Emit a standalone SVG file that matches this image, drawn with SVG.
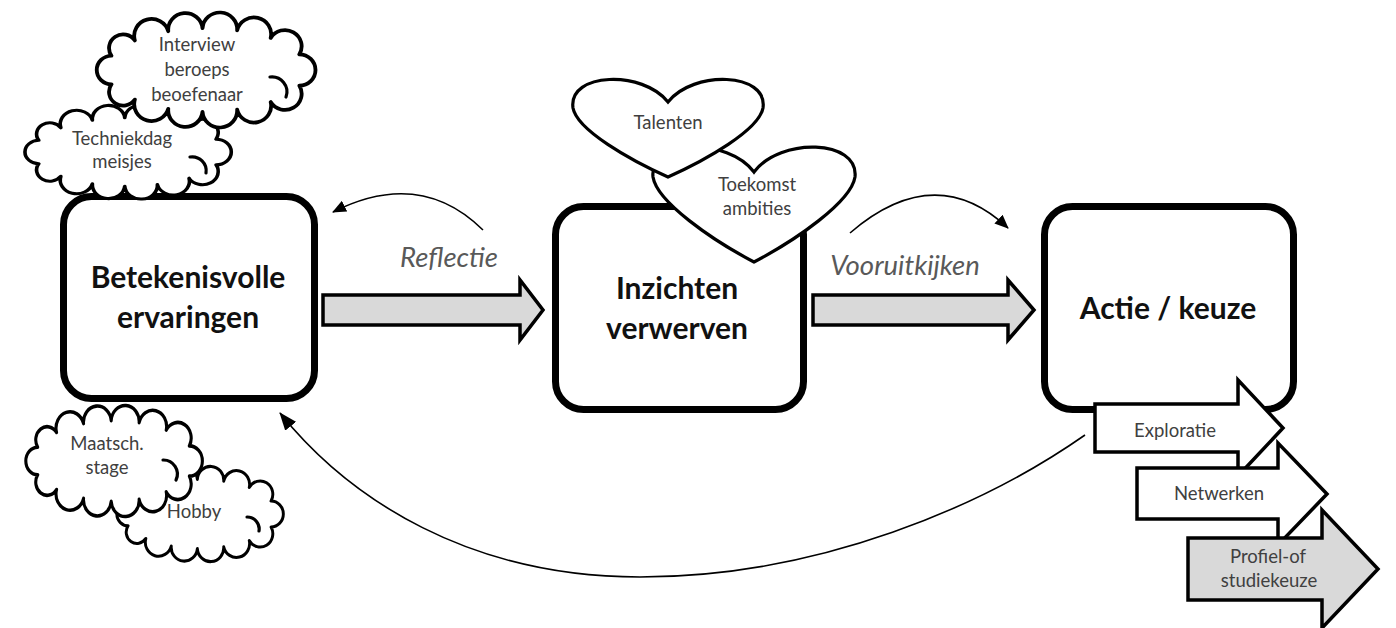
<svg xmlns="http://www.w3.org/2000/svg" width="1396" height="628" viewBox="0 0 1396 628">
<defs>
<style>
.box{fill:#fff;stroke:#000;stroke-width:7}
.cloud{fill:#fff;stroke:#000;stroke-width:3.2;vector-effect:non-scaling-stroke;stroke-linejoin:round}
.curl{fill:none;stroke:#000;stroke-width:3.2;stroke-linecap:round}
.heart{fill:#fff;stroke:#000;stroke-width:3.2;stroke-linejoin:miter}
.barrow{fill:#d9d9d9;stroke:#000;stroke-width:3.5;stroke-linejoin:miter}
.warrow{fill:#fff;stroke:#000;stroke-width:3.5;stroke-linejoin:miter}
.thin{fill:none;stroke:#000;stroke-width:1.6}
.big{font-family:Lato,"Liberation Sans",sans-serif;font-weight:bold;font-size:30px;fill:#111;text-anchor:middle}
.small{font-family:Lato,"Liberation Sans",sans-serif;font-size:18.5px;fill:#404040;text-anchor:middle}
.lbl{font-family:Lato,"Liberation Sans",sans-serif;font-style:italic;font-size:27.5px;fill:#595959;text-anchor:middle}
</style>
<path id="cloudShape" d="M77.9,13.5 A0.01,0.01 0 0 1 54,27.6 A0.01,0.01 0 0 1 26,34.2 A0.01,0.01 0 0 1 -2.9,36 A0.01,0.01 0 0 1 -31.5,33.4 A0.01,0.01 0 0 1 -59.4,25.5 A0.01,0.01 0 0 1 -78.9,12.3 A0.01,0.01 0 0 1 -78.9,-12.3 A0.01,0.01 0 0 1 -59.4,-25.5 A0.01,0.01 0 0 1 -31.5,-33.4 A0.01,0.01 0 0 1 -2.9,-36 A0.01,0.01 0 0 1 26,-34.2 A0.01,0.01 0 0 1 54,-27.6 A0.01,0.01 0 0 1 77.9,-13.5 A0.01,0.01 0 0 1 77.9,13.5 Z"/>
<marker id="ah" markerUnits="userSpaceOnUse" markerWidth="14" markerHeight="12" viewBox="0 0 14 12" refX="13" refY="6" orient="auto">
<path d="M0,0 L14,6 L0,12 Z" fill="#000"/>
</marker>
<marker id="ahBig" markerUnits="userSpaceOnUse" markerWidth="18" markerHeight="14" viewBox="0 0 18 14" refX="17" refY="7" orient="auto">
<path d="M0,0 L18,7 L0,14 Z" fill="#000"/>
</marker>
</defs>
<rect width="1396" height="628" fill="#fff"/>

<g id="connectors">
<path class="barrow" d="M323,295 H520 V280 L543,310 L520,340 V325 H323 Z"/>
<path class="barrow" d="M813,295 H1008 V280 L1034,310 L1008,340 V325 H813 Z"/>
<path class="thin" d="M483,230 Q420,168 333,212" marker-end="url(#ah)"/>
<path class="thin" d="M850,233 Q935,160 1008,228" marker-end="url(#ah)"/>
<path class="thin" d="M1085,435 C985,505 820,577 640,577 C470,577 350,500 280,413" marker-end="url(#ahBig)"/>
</g>
<g id="label-reflectie"><text class="lbl" x="449" y="267">Reflectie</text></g>
<g id="label-vooruitkijken"><text class="lbl" x="905" y="275">Vooruitkijken</text></g>

<g id="node-ervaringen">
<rect class="box" x="63.5" y="196.5" width="251" height="202" rx="28"/>
<text class="big" x="188" y="288">Betekenisvolle</text>
<text class="big" x="188" y="328">ervaringen</text>
</g>

<g id="cloud-techniekdag">
<use href="#cloudShape" class="cloud" transform="translate(128,152) scale(1.13,0.95)"/>
<path class="curl" d="M190,157 A14,14 0 0 1 206,173"/>
<text class="small" x="122" y="145">Techniekdag</text>
<text class="small" x="122" y="168">meisjes</text>
</g>

<g id="cloud-interview">
<use href="#cloudShape" class="cloud" transform="translate(206,70) scale(1.198,1.16)"/>
<path class="curl" d="M270,77 A15,15 0 0 1 286,97"/>
<text class="small" x="197" y="51">Interview</text>
<text class="small" x="197" y="76">beroeps</text>
<text class="small" x="197" y="101">beoefenaar</text>
</g>

<g id="cloud-hobby">
<use href="#cloudShape" class="cloud" transform="translate(200,514) scale(0.912,0.96)"/>
<path class="curl" d="M247,517 A12,12 0 0 1 259,531"/>
<text class="small" x="194" y="518">Hobby</text>
</g>

<g id="cloud-maatsch">
<use href="#cloudShape" class="cloud" transform="translate(114,461) scale(0.967,1.12)"/>
<path class="curl" d="M163,460 A14,14 0 0 1 176,480"/>
<text class="small" x="107" y="450">Maatsch.</text>
<text class="small" x="107" y="474">stage</text>
</g>

<g id="node-inzichten">
<rect class="box" x="555.5" y="206.5" width="248" height="203" rx="28"/>
<text class="big" x="677" y="299">Inzichten</text>
<text class="big" x="677" y="339">verwerven</text>
</g>

<g id="heart-toekomst">
<path class="heart" d="M754,172 C728,137 649,139 653,177 C657,202 712,240 754,262 C796,240 851,202 855,177 C859,139 780,137 754,172 Z"/>
<text class="small" x="757" y="191">Toekomst</text>
<text class="small" x="757" y="215">ambities</text>
</g>

<g id="heart-talenten">
<path class="heart" d="M668,102 C643,70 568,72 573,108 C577,130 630,160 668,177 C706,160 759,130 763,108 C768,72 693,70 668,102 Z"/>
<text class="small" x="668" y="129">Talenten</text>
</g>

<g id="node-actie">
<rect class="box" x="1044.5" y="206.5" width="249" height="203" rx="28"/>
<text class="big" x="1168" y="319">Actie / keuze</text>
</g>

<g id="node-exploratie">
<path class="warrow" d="M1095,404 H1238 V380 L1283,428 L1238,476 V452 H1095 Z"/>
<text class="small" x="1175" y="437">Exploratie</text>
</g>

<g id="node-netwerken">
<path class="warrow" d="M1137,468 H1278 V443 L1327,494 L1278,545 V519 H1137 Z"/>
<text class="small" x="1219" y="500">Netwerken</text>
</g>

<g id="node-profiel">
<path class="barrow" d="M1188,538 H1322 V510 L1378,569 L1322,628 V600 H1188 Z"/>
<text class="small" x="1268" y="563">Profiel-of</text>
<text class="small" x="1269" y="587">studiekeuze</text>
</g>
</svg>
